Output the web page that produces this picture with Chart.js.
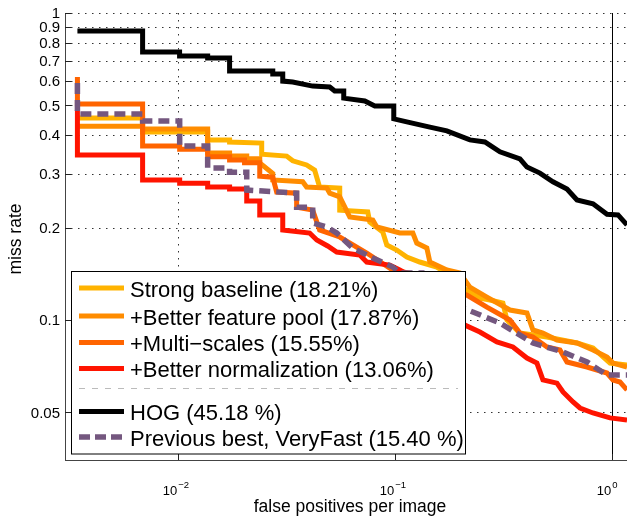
<!DOCTYPE html>
<html>
<head>
<meta charset="utf-8">
<script src="https://cdn.jsdelivr.net/npm/chart.js@4/dist/chart.umd.min.js"></script>
<style>
html,body{margin:0;padding:0;background:#fff;}
canvas{display:block;}
</style>
</head>
<body>
<canvas id="c" width="627" height="516"></canvas>
<script>
// ---------- data (fppi, miss rate) ----------
const seriesNames = ['Strong baseline (18.21%)','+Better feature pool (17.87%)','+Multi\u2212scales (15.55%)','+Better normalization (13.06%)','HOG (45.18 %)','Previous best, VeryFast (15.40 %)'];

const baselineFppi = [0.00345,0.00689,0.00689,0.01374,0.01374,0.01734,0.01734,0.02438,0.02438,0.03177,0.03388,0.03926,0.04276,0.04508,0.05579,0.05579,0.07512,0.07674,0.0881,0.09194,0.1022,0.1137,0.1305,0.1563,0.1795,0.1853,0.215,0.2469,0.2746,0.3152,0.3289,0.3776,0.503,0.6917,0.8198,0.982,1.176];
const baselineMiss = [0.455,0.455,0.410,0.410,0.386,0.386,0.380,0.377,0.347,0.342,0.330,0.320,0.308,0.271,0.269,0.228,0.225,0.2086,0.1935,0.1755,0.169,0.1604,0.1545,0.1488,0.1401,0.133,0.1252,0.1179,0.1162,0.1136,0.1,0.0907,0.0880,0.0842,0.0811,0.0724,0.0714];

const featureFppi = [0.00345,0.00689,0.00689,0.01374,0.01374,0.01734,0.01734,0.0208,0.0208,0.02388,0.02388,0.02742,0.02742,0.03767,0.03926,0.04864,0.05018,0.05579,0.06206,0.07924,0.08267,0.1055,0.1212,0.1264,0.1406,0.1452,0.1739,0.1996,0.222,0.2659,0.3396,0.4068,0.4335,0.482,0.5592,0.6917,0.8198,0.9513,1.014,1.176];
const featureMiss = [0.428,0.428,0.419,0.419,0.350,0.350,0.342,0.342,0.335,0.335,0.325,0.300,0.286,0.282,0.271,0.269,0.259,0.252,0.2165,0.2117,0.201,0.192,0.192,0.1781,0.1716,0.1545,0.1455,0.1422,0.128,0.1188,0.1078,0.1054,0.0928,0.0907,0.0861,0.0842,0.0799,0.0758,0.0724,0.0703];

const multiFppi = [0.00345,0.00345,0.00689,0.00689,0.01021,0.01021,0.01374,0.01374,0.01734,0.01734,0.02032,0.02032,0.02388,0.02388,0.02742,0.02858,0.03532,0.03532,0.04188,0.04508,0.05579,0.07433,0.09797,0.1305,0.1498,0.1739,0.215,0.2659,0.3396,0.3776,0.4335,0.503,0.5774,0.6221,0.7695,0.9513,1.014,1.092,1.176];
const multiMiss = [0.619,0.505,0.505,0.369,0.369,0.360,0.360,0.340,0.340,0.332,0.332,0.325,0.325,0.294,0.292,0.261,0.259,0.233,0.228,0.1965,0.1864,0.1653,0.1455,0.1401,0.135,0.1271,0.1206,0.1102,0.1,0.0907,0.0880,0.0817,0.0799,0.0730,0.0703,0.0672,0.0638,0.0628,0.0592];

const normFppi = [0.00345,0.00345,0.00689,0.00689,0.01021,0.01021,0.01374,0.01374,0.01734,0.01734,0.0208,0.0208,0.02388,0.02388,0.03048,0.03048,0.04055,0.04375,0.04909,0.05405,0.06901,0.07433,0.09491,0.1055,0.1348,0.1614,0.1853,0.2105,0.2469,0.2958,0.3505,0.4068,0.4521,0.482,0.5592,0.5963,0.6633,0.7143,0.8198,0.982,1.176];
const normMiss = [0.483,0.345,0.345,0.286,0.286,0.279,0.279,0.271,0.271,0.267,0.267,0.244,0.244,0.220,0.220,0.1965,0.192,0.1822,0.1742,0.1665,0.1628,0.1545,0.151,0.1455,0.132,0.1188,0.1054,0.0963,0.0914,0.0848,0.0817,0.0752,0.0724,0.0638,0.0623,0.0583,0.0541,0.0517,0.0498,0.048,0.0472];

const hogFppi = [0.00345,0.00689,0.00689,0.0102,0.0102,0.01374,0.01374,0.01734,0.01734,0.02742,0.02742,0.03048,0.03048,0.03388,0.04188,0.05018,0.05291,0.05822,0.05822,0.07278,0.08094,0.099,0.099,0.1137,0.1452,0.1739,0.222,0.2603,0.3053,0.3776,0.4068,0.4669,0.5361,0.6221,0.6917,0.8198,0.9513,1.069,1.176];
const hogMiss = [0.874,0.874,0.746,0.746,0.724,0.724,0.714,0.714,0.647,0.647,0.633,0.633,0.600,0.596,0.578,0.574,0.557,0.557,0.528,0.517,0.498,0.498,0.452,0.442,0.425,0.413,0.386,0.38,0.353,0.335,0.315,0.301,0.282,0.267,0.246,0.239,0.221,0.22,0.204];

const veryFastFppi = [0.00345,0.00345,0.00689,0.00689,0.01021,0.01021,0.01374,0.01374,0.01734,0.01734,0.0208,0.0208,0.03532,0.03532,0.04188,0.04188,0.04864,0.05405,0.06406,0.07924,0.09797,0.1055,0.1348,0.1667,0.2292,0.3053,0.4335,0.5963,0.7695,0.9513,1.176];
const veryFastMiss = [0.592,0.469,0.469,0.445,0.445,0.369,0.369,0.313,0.313,0.303,0.303,0.265,0.259,0.233,0.233,0.207,0.201,0.192,0.1716,0.1592,0.1488,0.1422,0.1422,0.1162,0.1062,0.0978,0.0842,0.0787,0.073,0.0662,0.0662];

const yTickValues = [1,0.9,0.8,0.7,0.6,0.5,0.4,0.3,0.2,0.1,0.05];
const yTickLabels = ['1','0.9','0.8','0.7','0.6','0.5','0.4','0.3','0.2','0.1','0.05'];
const xTickValues = [0.01,0.1,1];
const xTickExponents = ['\u22122','\u22121','0'];

// ---------- styling ----------
const colors = ['#FFB300','#FF8C00','#FF6400','#FF1400','#000000','#74577F'];
const FONT = '"Liberation Sans", Arial, Helvetica, sans-serif';

function pts(xs, ys){ return xs.map((v,i)=>({x:v, y:ys[i]})); }

const seriesData = [
  pts(baselineFppi, baselineMiss),
  pts(featureFppi, featureMiss),
  pts(multiFppi, multiMiss),
  pts(normFppi, normMiss),
  pts(hogFppi, hogMiss),
  pts(veryFastFppi, veryFastMiss)
];

const datasets = seriesData.map((d,i)=>({
  label: seriesNames[i],
  data: d,
  borderColor: colors[i],
  backgroundColor: colors[i],
  borderWidth: i===5 ? 5.5 : 5,
  borderDash: i===5 ? [11,6] : [],
  borderCapStyle: 'butt',
  borderJoinStyle: 'miter',
  pointRadius: 0,
  tension: 0,
  fill: false,
  order: 6 - i
}));

function seg(ctx,x1,y1,x2,y2){ ctx.beginPath(); ctx.moveTo(x1,y1); ctx.lineTo(x2,y2); ctx.stroke(); }

const refPlugin = {
  id: 'ref',
  beforeDatasetsDraw(chart){
    const ctx = chart.ctx, a = chart.chartArea, xs = chart.scales.x, ys = chart.scales.y;
    ctx.save();
    ctx.strokeStyle = '#333';
    ctx.lineWidth = 1;
    ctx.setLineDash([1.5,5.5]);
    yTickValues.forEach(v=>{
      const py = Math.round(ys.getPixelForValue(v)) + 0.5;
      seg(ctx, a.left + 6, py, a.right, py);
    });
    xTickValues.forEach(v=>{
      if (v === 1) return;
      const px = Math.round(xs.getPixelForValue(v)) + 0.5;
      seg(ctx, px, a.top, px, a.bottom - 6);
    });
    ctx.setLineDash([]);
    ctx.strokeStyle = '#000';
    const p1 = Math.round(xs.getPixelForValue(1)) + 0.5;
    seg(ctx, p1, a.top, p1, a.bottom);
    ctx.restore();
  },
  afterDatasetsDraw(chart){
    const ctx = chart.ctx, a = chart.chartArea, xs = chart.scales.x, ys = chart.scales.y;
    ctx.save();
    // axes
    ctx.strokeStyle = '#444';
    ctx.lineWidth = 1;
    seg(ctx, a.left + 0.5, a.top, a.left + 0.5, a.bottom + 1);
    seg(ctx, a.left, a.bottom + 0.5, a.right, a.bottom + 0.5);
    // tick marks
    ctx.strokeStyle = '#222';
    yTickValues.forEach(v=>{
      const py = Math.round(ys.getPixelForValue(v)) + 0.5;
      seg(ctx, a.left, py, a.left + 6, py);
    });
    xTickValues.forEach(v=>{
      const px = Math.round(xs.getPixelForValue(v)) + 0.5;
      seg(ctx, px, a.bottom, px, a.bottom - 6);
    });
    // y tick labels
    ctx.fillStyle = '#000';
    ctx.font = '15px ' + FONT;
    ctx.textAlign = 'right';
    ctx.textBaseline = 'alphabetic';
    yTickValues.forEach((v,i)=>{
      const py = ys.getPixelForValue(v);
      ctx.fillText(yTickLabels[i], a.left - 5, py + 5.3);
    });
    // x tick labels with exponent
    xTickValues.forEach((v,i)=>{
      const px = xs.getPixelForValue(v);
      ctx.font = '13px ' + FONT;
      ctx.textAlign = 'right';
      ctx.fillText('10', px - 0.5, 495);
      ctx.font = '9.5px ' + FONT;
      ctx.textAlign = 'left';
      ctx.fillText(xTickExponents[i], px + 0.5, 487.5);
    });
    // axis titles
    ctx.font = '17.5px ' + FONT;
    ctx.textAlign = 'center';
    ctx.fillText('false positives per image', 350, 512);
    ctx.save();
    ctx.translate(21, 239);
    ctx.rotate(-Math.PI/2);
    ctx.fillText('miss rate', 0, 0);
    ctx.restore();

    // legend
    const bx = 71.5, by = 271.5, bw = 394, bh = 182.5;
    ctx.fillStyle = '#fff';
    ctx.fillRect(bx, by, bw, bh);
    ctx.strokeStyle = '#000';
    ctx.lineWidth = 1;
    ctx.strokeRect(bx, by, bw, bh);
    const rowsY = [288, 316, 342.5, 368.5, 411.5, 437];
    ctx.font = '22px ' + FONT;
    ctx.textAlign = 'left';
    rowsY.forEach((ry,i)=>{
      ctx.strokeStyle = colors[i];
      ctx.lineWidth = i===5 ? 5.5 : 5;
      ctx.setLineDash(i===5 ? [11,5] : []);
      ctx.lineCap = 'butt';
      seg(ctx, 79, ry, 124, ry);
      ctx.setLineDash([]);
      ctx.fillStyle = '#000';
      ctx.fillText(seriesNames[i], 130, ry + 8.8);
    });
    // separator
    ctx.strokeStyle = '#bbb';
    ctx.lineWidth = 1;
    ctx.setLineDash([6,7]);
    seg(ctx, 79, 388.5, 458, 388.5);
    ctx.setLineDash([]);
    ctx.restore();
  }
};

new Chart(document.getElementById('c'), {
  type: 'line',
  data: { datasets },
  options: {
    responsive: false,
    animation: false,
    devicePixelRatio: 1,
    layout: { padding: { top: 13, right: 0, left: 0, bottom: 0 } },
    plugins: { legend: { display: false }, tooltip: { enabled: false } },
    scales: {
      x: {
        type: 'logarithmic', min: 0.003024, max: 1.176,
        ticks: { display: false }, grid: { display: false }, border: { display: false },
        afterFit(s){ s.height = 56; }
      },
      y: {
        type: 'logarithmic', min: 0.035, max: 1,
        ticks: { display: false }, grid: { display: false }, border: { display: false },
        afterFit(s){ s.width = 65; }
      }
    }
  },
  plugins: [refPlugin]
});
</script>
</body>
</html>
